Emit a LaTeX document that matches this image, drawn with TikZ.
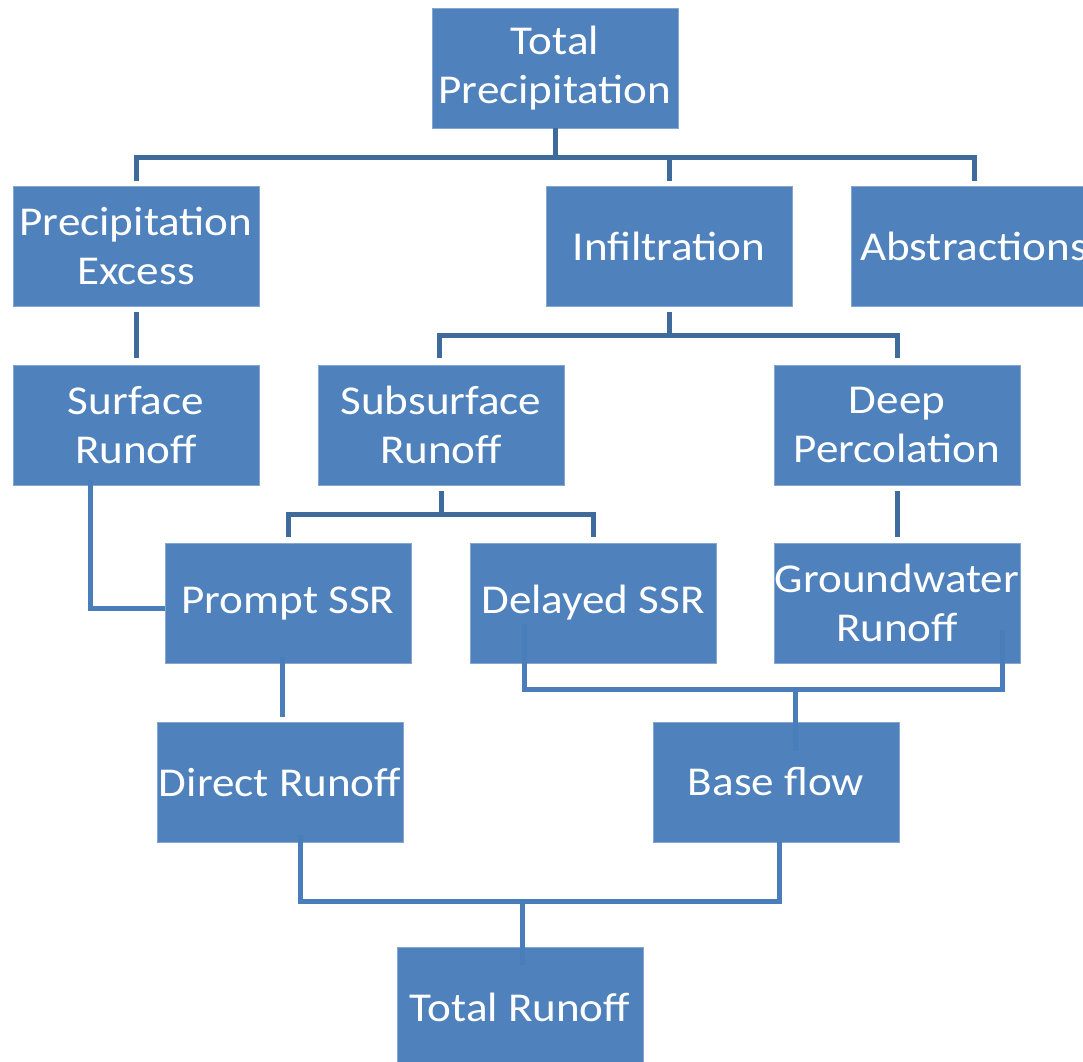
\documentclass[tikz,border=0pt]{standalone}
\usepackage{fontspec}
\setmainfont{Carlito}[FakeStretch=1.1]
\usetikzlibrary{calc}
\definecolor{boxfill}{HTML}{4F81BD}
\definecolor{boxedge}{HTML}{86A6D2}
\definecolor{darkline}{HTML}{3F6A9C}
\definecolor{lightline}{HTML}{4A7EBB}
\begin{document}
\begin{tikzpicture}[x=1bp,y=-1bp,
  stepbox/.style={rectangle, fill=boxfill, draw=boxedge, line width=0.8bp,
    minimum width=246bp, minimum height=120bp, inner sep=0pt, align=center,
    text=white, font=\fontsize{41bp}{49bp}\selectfont},
  dk/.style={draw=darkline, line width=5bp},
  lt/.style={draw=lightline, line width=5bp}]
\useasboundingbox (0,0) rectangle (1083,1062);
\clip (0,0) rectangle (1083,1062);
\node[stepbox] (tp)  at (555,68)  {Total\\Precipitation};
\node[stepbox] (pe)  at (136,246) {Precipitation\\Excess};
\node[stepbox] (inf) at (669,246) {Infiltration};
\node[stepbox] (ab)  at (974,246) {Abstractions};
\node[stepbox] (sr)  at (136,425) {Surface\\Runoff};
\node[stepbox] (ssr) at (441,425) {Subsurface\\Runoff};
\node[stepbox] (dp)  at (897,425) {Deep\\Percolation};
\node[stepbox] (ps)  at (288,603) {Prompt SSR};
\node[stepbox] (ds)  at (593,603) {Delayed SSR};
\node[stepbox] (gw)  at (897,603) {Groundwater\\Runoff};
\node[stepbox] (dr)  at (280,782) {Direct Runoff};
\node[stepbox] (bf)  at (776,782) {Base flow};
\node[stepbox] (tr)  at (520,1007) {Total Runoff};
% dark connectors
\coordinate (b1) at ($(tp.south)+(0,29)$);
\draw[dk] (tp.south) -- (b1);
\draw[dk] ($(pe.north)+(0,-5)$) |- (b1) -| ($(ab.north)+(0,-5)$);
\draw[dk] ($(inf.north)+(0,-5)$) -- (inf.north |- b1);
\draw[dk] ($(pe.south)+(0,6)$) -- ($(sr.north)+(0,-7)$);
\coordinate (b2) at ($(inf.south)+(0,29)$);
\draw[dk] ($(inf.south)+(0,6)$) -- (b2);
\draw[dk] ($(ssr.north)+(-2,-7)$) |- (b2) -| ($(dp.north)+(0,-7)$);
\coordinate (b3) at ($(ssr.south)+(0,29)$);
\draw[dk] ($(ssr.south)+(0,6)$) -- (b3);
\draw[dk] ($(ps.north)+(0,-6)$) |- (b3) -| ($(ds.north)+(0,-6)$);
\draw[dk] ($(dp.south)+(0,6)$) -- ($(gw.north)+(0,-6)$);
% light connectors
\draw[lt] ($(sr.south)+(-46,-5)$) |- ($(ps.west)+(0,5)$);
\draw[lt] ($(ps.south)+(-6,-6)$) -- ($(ps.south |- dr.north)+(-6,-5)$);
\coordinate (b4) at ($(bf.north)+(19,-32)$);
\draw[lt] ($(ds.south)+(-69,-39)$) |- (b4) -| ($(gw.south)+(105,-33)$);
\draw[lt] (b4) -- ($(bf.north)+(19,29)$);
\coordinate (b5) at ($(tr.north)+(2,-45)$);
\draw[lt] ($(dr.south)+(20,-7)$) |- (b5) -| ($(bf.south)+(3,0)$);
\draw[lt] (b5) -- ($(tr.north)+(2,18)$);
\end{tikzpicture}
\end{document}
